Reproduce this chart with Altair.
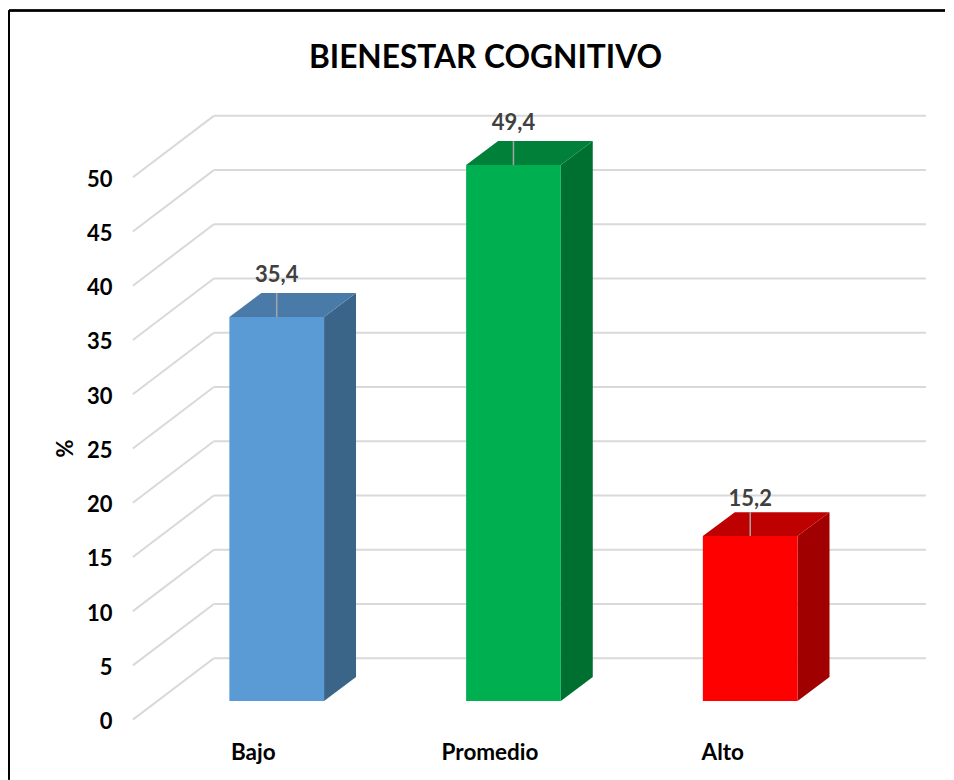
import altair as alt
import pandas as pd

categories = ["Bajo", "Promedio", "Alto"]
values = [35.4, 49.4, 15.2]
value_labels = ["35,4", "49,4", "15,2"]
front_colors = ["#5B9BD5", "#00B050", "#FF0000"]
top_colors = ["#4A7BA8", "#008038", "#BF0000"]
side_colors = ["#3A6588", "#007030", "#A00000"]
label_lift = [0.54, 0.54, 0.1]
axis_ticks = [0, 5, 10, 15, 20, 25, 30, 35, 40, 45, 50]
category_label_pos = [-0.101, 0.899, 1.882]

FONT = "Lato"
X_DOMAIN = [-0.6076, 2.7426]
Y_DOMAIN = [0, 55.71]
WALL_DX, WALL_DY = 0.342, 5.66
BAR_W = 0.4
BAR_DX, BAR_DY = 0.135, 2.21
BASE = 1.72

idx = list(range(len(categories)))
bars = pd.DataFrame({
    "cat": categories,
    "x0": [i - BAR_W / 2 for i in idx],
    "x1": [i + BAR_W / 2 for i in idx],
    "xm": [float(i) for i in idx],
    "y0": [BASE] * 3,
    "y1": [BASE + v for v in values],
    "yb": [BASE + v + BAR_DY for v in values],
    "yt": [BASE + v + BAR_DY + l for v, l in zip(values, label_lift)],
    "label": value_labels,
})

side_rows, top_rows = [], []
for c, v in zip(categories, values):
    r = bars[bars.cat == c].iloc[0]
    side_rows += [
        {"cat": c, "x": r.x1, "lo": r.y0, "hi": r.y1},
        {"cat": c, "x": r.x1 + BAR_DX, "lo": r.y0 + BAR_DY, "hi": r.y1 + BAR_DY},
    ]
    top_rows += [
        {"cat": c, "x": r.x0, "lo": r.y1, "hi": r.y1},
        {"cat": c, "x": r.x0 + BAR_DX, "lo": r.y1, "hi": r.y1 + BAR_DY},
        {"cat": c, "x": r.x1, "lo": r.y1, "hi": r.y1 + BAR_DY},
        {"cat": c, "x": r.x1 + BAR_DX, "lo": r.y1 + BAR_DY, "hi": r.y1 + BAR_DY},
    ]
side = pd.DataFrame(side_rows)
top = pd.DataFrame(top_rows)

grid = pd.DataFrame({"t": axis_ticks})
grid["x0"] = X_DOMAIN[0]
grid["xw"] = X_DOMAIN[0] + WALL_DX
grid["xe"] = X_DOMAIN[1]
grid["yw"] = grid["t"] + WALL_DY

xs = alt.Scale(domain=X_DOMAIN, nice=False, zero=False)
ys = alt.Scale(domain=Y_DOMAIN, nice=False, zero=False)

label_expr = " : ".join(
    f"datum.value < {p + 0.1} ? '{c}'" for p, c in zip(category_label_pos[:-1], categories[:-1])
) + f" : '{categories[-1]}'"

x_axis = alt.Axis(
    values=category_label_pos, labelExpr=label_expr, title=None, domain=False, ticks=False,
    grid=False, labelFont=FONT, labelFontWeight="bold", labelFontSize=22.5, labelColor="#000000",
    labelPadding=22, labelOverlap=False, labelFlush=False, labelAngle=0,
)
y_axis = alt.Axis(
    values=axis_ticks, title="%", domain=False, ticks=False, grid=False,
    labelFont=FONT, labelFontWeight="bold", labelFontSize=22, labelColor="#000000",
    labelPadding=21, labelOverlap=False, labelFlush=False, labelOffset=2,
    titleFont=FONT, titleFontWeight="bold", titleFontSize=22, titleColor="#000000",
    titleX=-55, titleY=333,
)

diag = alt.Chart(grid).mark_rule(color="#D9D9D9", strokeWidth=2).encode(
    x=alt.X("x0:Q", scale=xs, axis=x_axis), x2="xw:Q",
    y=alt.Y("t:Q", scale=ys, axis=y_axis), y2="yw:Q",
)
wall = alt.Chart(grid).mark_rule(color="#D9D9D9", strokeWidth=2).encode(
    x=alt.X("xw:Q", scale=xs), x2="xe:Q", y=alt.Y("yw:Q", scale=ys),
)
side_l = alt.Chart(side).mark_area(opacity=1).encode(
    x=alt.X("x:Q", scale=xs), y=alt.Y("lo:Q", scale=ys), y2="hi:Q",
    color=alt.Color("cat:N", scale=alt.Scale(domain=categories, range=side_colors), legend=None),
)
top_l = alt.Chart(top).mark_area(opacity=1).encode(
    x=alt.X("x:Q", scale=xs), y=alt.Y("lo:Q", scale=ys), y2="hi:Q",
    color=alt.Color("cat:N", scale=alt.Scale(domain=categories, range=top_colors), legend=None),
)
front = alt.Chart(bars).mark_rect().encode(
    x=alt.X("x0:Q", scale=xs), x2="x1:Q",
    y=alt.Y("y0:Q", scale=ys), y2="y1:Q",
    color=alt.Color("cat:N", scale=alt.Scale(domain=categories, range=front_colors), legend=None),
)
leader = alt.Chart(bars).mark_rule(color="#A6A6A6", strokeWidth=1.5).encode(
    x=alt.X("xm:Q", scale=xs), y=alt.Y("y1:Q", scale=ys), y2="yb:Q",
)
text = alt.Chart(bars).mark_text(
    font=FONT, fontWeight="bold", fontSize=22, color="#404040", baseline="bottom"
).encode(
    x=alt.X("xm:Q", scale=xs), y=alt.Y("yt:Q", scale=ys), text="label:N",
)
border_left = alt.Chart(bars).mark_rule(color="#000000", strokeWidth=2).encode(
    x=alt.value(-124), y=alt.value(-105), y2=alt.value(665),
)
border_top = alt.Chart(bars).mark_rule(color="#000000", strokeWidth=2).encode(
    x=alt.value(-124), x2=alt.value(813), y=alt.value(-105),
)

chart = alt.layer(
    diag, wall, side_l, top_l, front, leader, text, border_left, border_top
).resolve_scale(color="independent").properties(
    width=794, height=605, background="#FFFFFF",
    padding={"left": 0, "top": 1, "right": 0, "bottom": 0},
    title=alt.TitleParams(
        "BIENESTAR COGNITIVO", font=FONT, fontWeight="bold", fontSize=31.7, color="#000000",
        anchor="middle", offset=-65, dx=-44,
    ),
).configure_view(stroke=None)

chart.save("out.html", embed_options={"renderer": "svg", "actions": False})
